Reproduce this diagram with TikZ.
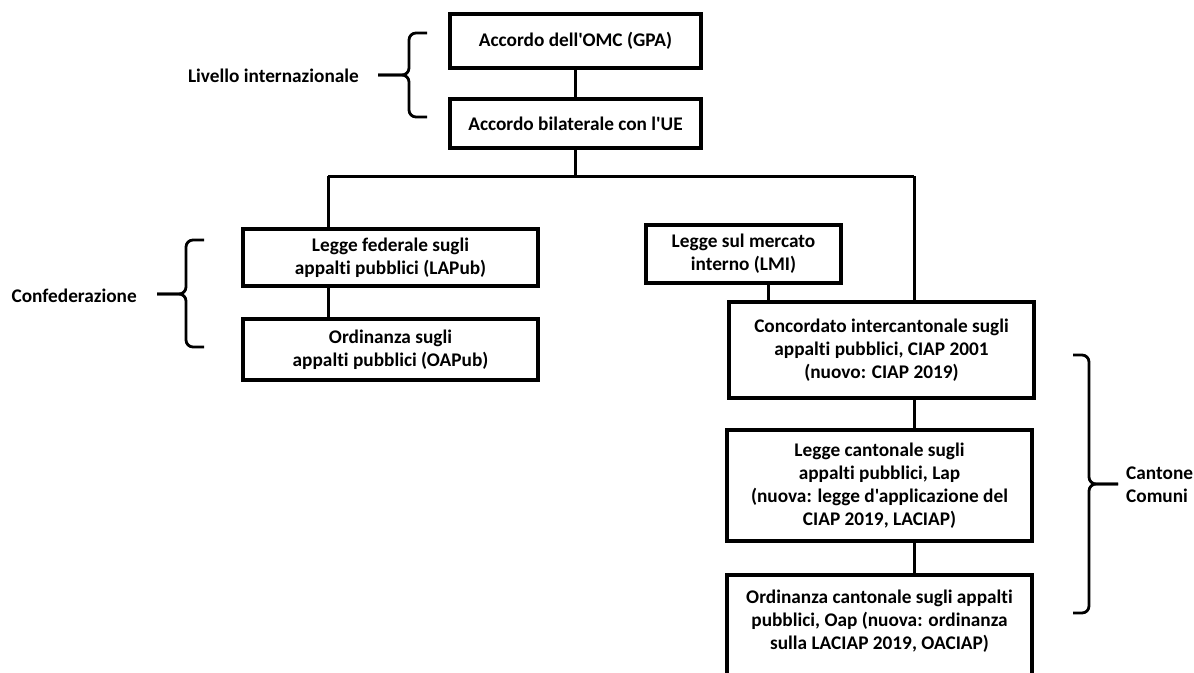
\documentclass[tikz,border=0pt]{standalone}
\usepackage{fontspec}
\setmainfont{Carlito}[Ligatures={TeXOff,NoCommon}]
\begin{document}
\begin{tikzpicture}[x=1pt,y=-1pt,
  box/.style={draw=black, line width=3.4pt, align=center, inner sep=0pt,
    font=\bfseries\fontsize{19.3}{23}\selectfont},
  conn/.style={draw=black, line width=3pt},
  brace/.style={draw=black, line width=2.8pt, rounded corners=7pt},
  lbl/.style={inner sep=0pt, font=\bfseries\fontsize{19.3}{23}\selectfont}]
\useasboundingbox (0,0) rectangle (1194,672);
\clip (0,0) rectangle (1194,672);
\fill[white] (0,0) rectangle (1194,672);

% boxes
\node[box, minimum width=251pt, minimum height=54pt] (omc) at (575.5,41) {Accordo dell'OMC (GPA)};
\node[box, minimum width=251pt, minimum height=49pt] (ue) at (575.5,123.5) {Accordo bilaterale con l'UE};
\node[box, minimum width=295pt, minimum height=57pt] (lapub) at (390.5,257.5) {Legge federale sugli\\appalti pubblici (LAPub)};
\node[box, minimum width=295pt, minimum height=61pt] (oapub) at (390.5,349.5) {Ordinanza sugli\\appalti pubblici (OAPub)};
\node[box, minimum width=195pt, minimum height=58pt] (lmi) at (743.5,254) {Legge sul mercato\\interno (LMI)};
\node[box, minimum width=305pt, minimum height=96pt] (ciap) at (881.5,350) {Concordato intercantonale sugli\\appalti pubblici, CIAP 2001\\(nuovo: CIAP 2019)};
\node[box, minimum width=305pt, minimum height=111pt] (lap) at (879.5,485.5) {Legge cantonale sugli\\appalti pubblici, Lap\\(nuova: legge d'applicazione del\\CIAP 2019, LACIAP)};
\node[box, minimum width=305pt, minimum height=119pt] (oap) at (879.5,634.5) {Ordinanza cantonale sugli appalti\\pubblici, Oap (nuova: ordinanza\\sulla LACIAP 2019, OACIAP)\\\strut};

% junction coordinates
\coordinate (jC) at (575.5,176);
\coordinate (jL) at (328,176);
\coordinate (jR) at (914,176);
\coordinate (lx) at (768,0);

% connectors
\draw[conn] (omc.south) -- (ue.north);
\draw[conn] (ue.south) -- (jC);
\draw[conn] (jL) -- (jR);
\draw[conn] (jL) -- (jL |- lapub.north);
\draw[conn] (jR) -- (jR |- ciap.north);
\draw[conn] (lapub.south -| jL) -- (oapub.north -| jL);
\draw[conn] (lmi.south -| lx) -- (ciap.north -| lx);
\draw[conn] (ciap.south -| jR) -- (lap.north -| jR);
\draw[conn] (lap.south -| jR) -- (oap.north -| jR);

% braces and labels
\coordinate (b1t) at (427,33);
\coordinate (b1b) at (427,117);
\coordinate (b1m) at (378,75);
\draw[brace] (b1t) -- (409,33) -- (409,75) -- (b1m);
\draw[brace] (b1b) -- (409,117) -- (409,75) -- (b1m);
\node[lbl, anchor=east] (intl) at (359,76) {Livello internazionale};

\coordinate (b2t) at (204,240);
\coordinate (b2b) at (204,347);
\coordinate (b2m) at (157,294);
\draw[brace] (b2t) -- (186,240) -- (186,294) -- (b2m);
\draw[brace] (b2b) -- (186,347) -- (186,294) -- (b2m);
\node[lbl, anchor=east] (conf) at (137,296) {Confederazione};

\coordinate (b3t) at (1073,355);
\coordinate (b3b) at (1073,613);
\coordinate (b3m) at (1118,484);
\draw[brace] (b3t) -- (1089,355) -- (1089,484) -- (b3m);
\draw[brace] (b3b) -- (1089,613) -- (1089,484) -- (b3m);
\node[lbl, anchor=west, align=left] (cant) at (1126,485) {Cantone\\Comuni};
\end{tikzpicture}
\end{document}
